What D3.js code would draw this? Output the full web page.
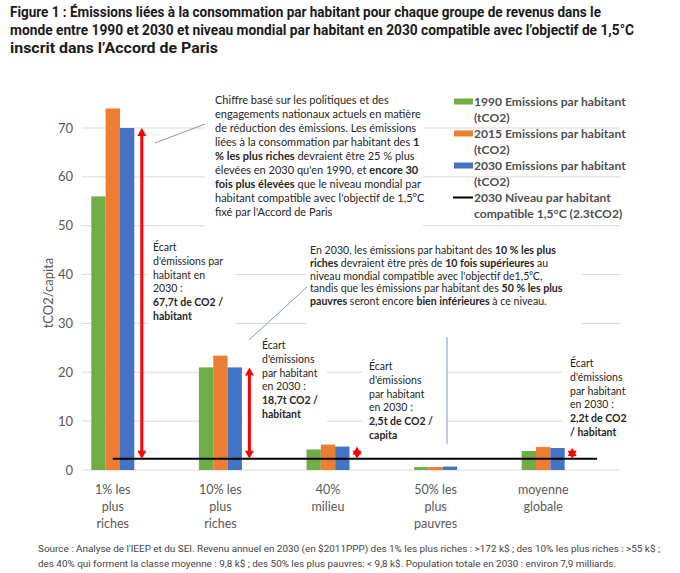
<!DOCTYPE html>
<html>
<head>
<meta charset="utf-8">
<script src="https://cdn.jsdelivr.net/npm/d3@7"></script>
<style>
  body { margin: 0; background: #fff; }
  svg text { font-family: Lato, "Open Sans", sans-serif; }
</style>
</head>
<body>
<div id="chart"></div>
<script>
// data
const categories = ["1%", "10%", "40%", "50%", "moyenne"];
const categoryLabels = [["1% les", "plus", "riches"], ["10% les", "plus", "riches"], ["40%", "milieu"], ["50% les", "plus", "pauvres"], ["moyenne", "globale"]];
const seriesNames = ["1990", "2015", "2030"];
const emissions1990 = [56, 21, 4.2, 0.6, 3.9];
const emissions2015 = [74, 23.4, 5.2, 0.6, 4.7];
const emissions2030 = [70, 21, 4.8, 0.7, 4.5];
const target2030 = 2.3;
const yTicks = [0, 10, 20, 30, 40, 50, 60, 70];
const gapGroups = ["1%", "10%", "40%", "moyenne"];
const colors = ["#70ad47", "#ed7d31", "#4472c4"];
const legendLines = [
  "1990 Emissions par habitant", "(tCO2)",
  "2015 Emissions par habitant", "(tCO2)",
  "2030 Emissions par habitant", "(tCO2)",
  "2030 Niveau par habitant", "compatible 1,5°C (2.3tCO2)"
];
const titleLines = [
  "Figure 1 : Émissions liées à la consommation par habitant pour chaque groupe de revenus dans le",
  "monde entre 1990 et 2030 et niveau mondial par habitant en 2030 compatible avec l’objectif de 1,5°C",
  "inscrit dans l’Accord de Paris"
];
const sourceLines = [
  "Source : Analyse de l'IEEP et du SEI. Revenu annuel en 2030 (en $2011PPP) des 1% les plus riches : >172 k$ ; des 10% les plus riches : >55 k$ ;",
  "des 40% qui forment la classe moyenne : 9,8 k$ ; des 50% les plus pauvres: < 9,8 k$. Population totale en 2030 : environ 7,9 milliards."
];
const note1 = [
  "Chiffre basé sur les politiques et des",
  "engagements nationaux actuels en matière",
  "de réduction des émissions. Les émissions",
  "liées à la consommation par habitant des **1**",
  "**% les plus riches** devraient être 25 % plus",
  "élevées en 2030 qu'en 1990, et **encore 30**",
  "**fois plus élevées** que le niveau mondial par",
  "habitant compatible avec l'objectif de 1,5°C",
  "fixé par l'Accord de Paris"
];
const note2 = [
  "En 2030, les émissions par habitant des **10 % les plus**",
  "**riches** devraient être près de **10 fois supérieures** au",
  "niveau mondial compatible avec l'objectif de1,5⁰C,",
  "tandis que les émissions par habitant des **50 % les plus**",
  "**pauvres** seront encore **bien inférieures** à ce niveau."
];
const gapNotes = [
  ["Écart", "d'émissions par", "habitant en", "2030 :", "**67,7t de CO2 /**", "**habitant**"],
  ["Écart", "d'émissions", "par habitant", "en 2030 :", "**18,7t CO2 /**", "**habitant**"],
  ["Écart", "d'émissions", "par habitant", "en 2030 :", "**2,5t de CO2 /**", "**capita**"],
  ["Écart", "d'émissions", "par habitant", "en 2030 :", "**2,2t de CO2**", "**/ habitant**"]
];

const width = 680, height = 573;
const svg = d3.select("#chart").append("svg")
  .attr("width", width).attr("height", height);

const y = d3.scaleLinear().domain([0, 70]).range([470, 128]);
const x = d3.scaleBand().domain(categories).range([59, 597]).padding(0);
const xs = d3.scaleBand().domain(seriesNames).range([-21.5, 21.5]);

// gridlines
svg.append("g").selectAll("line").data(yTicks).enter().append("line")
  .attr("x1", 82).attr("x2", 620)
  .attr("y1", d => y(d)).attr("y2", d => y(d))
  .attr("stroke", "#d9d9d9").attr("stroke-width", 1);

// white boxes behind text notes
const boxes = [[205, 90, 218, 140], [306, 240, 276, 97], [148, 237, 88, 89],
  [243, 336, 84, 89], [362, 356, 86, 86], [562, 352, 60, 86]];
svg.append("g").selectAll("rect").data(boxes).enter().append("rect")
  .attr("x", d => d[0]).attr("y", d => d[1]).attr("width", d => d[2]).attr("height", d => d[3])
  .attr("fill", "#fff");

// y axis labels
svg.append("g").selectAll("text").data(yTicks).enter().append("text")
  .attr("x", 73).attr("y", d => y(d) + 4.5)
  .attr("text-anchor", "end").attr("fill", "#595959").attr("font-size", 13)
  .text(d => d);
svg.append("text")
  .attr("transform", "translate(53," + ((y(0) + y(70)) / 2 - 6) + ") rotate(-90)")
  .attr("text-anchor", "middle").attr("fill", "#595959").attr("font-size", 13)
  .text("tCO2/capita");

// bars
const table = categories.map((c, i) => ({
  cat: c, vals: [emissions1990[i], emissions2015[i], emissions2030[i]]
}));
const groups = svg.append("g").selectAll("g").data(table).enter().append("g")
  .attr("transform", d => "translate(" + (x(d.cat) + x.bandwidth() / 2) + ",0)");
groups.selectAll("rect").data(d => d.vals.map((v, j) => ({ s: seriesNames[j], v: v, j: j })))
  .enter().append("rect")
  .attr("x", d => xs(d.s)).attr("width", xs.bandwidth())
  .attr("y", d => y(d.v)).attr("height", d => y(0) - y(d.v))
  .attr("fill", d => colors[d.j]);

// x labels
categoryLabels.forEach((lines, i) => {
  const t = svg.append("text").attr("text-anchor", "middle")
    .attr("fill", "#595959").attr("font-size", 12.5);
  lines.forEach((l, k) => {
    t.append("tspan").attr("x", x(categories[i]) + x.bandwidth() / 2)
      .attr("y", 494 + k * 17).text(l);
  });
});

// 1.5°C target line
svg.append("line")
  .attr("x1", x(categories[0]) + x.bandwidth() / 2).attr("x2", x.range()[1])
  .attr("y1", y(target2030)).attr("y2", y(target2030))
  .attr("stroke", "#000").attr("stroke-width", 2.2);

// red gap arrows
gapGroups.forEach(c => {
  const i = categories.indexOf(c);
  const ax = x(c) + x.bandwidth() / 2 + 29;
  const yt = y(emissions2030[i]), yb = y(target2030);
  const g = svg.append("g").attr("fill", "#ff0000");
  if (yb - yt > 16) {
    g.append("line").attr("x1", ax).attr("x2", ax).attr("y1", yt + 6).attr("y2", yb - 6)
      .attr("stroke", "#ff0000").attr("stroke-width", 3);
  }
  g.append("path").attr("d", `M${ax},${yt} L${ax + 4.5},${yt + 8} L${ax - 4.5},${yt + 8} Z`);
  g.append("path").attr("d", `M${ax},${yb} L${ax + 4.5},${yb - 8} L${ax - 4.5},${yb - 8} Z`);
});

// connector lines of the callouts
const connectors = [[155, 143, 205, 124], [249, 340, 307, 287], [447, 337, 447, 444]];
svg.append("g").selectAll("line").data(connectors).enter().append("line")
  .attr("x1", d => d[0]).attr("y1", d => d[1]).attr("x2", d => d[2]).attr("y2", d => d[3])
  .attr("stroke", "#7f97c4").attr("stroke-width", 1);

// text with **bold** parts
function richText(lines, x0, y0, dy, size) {
  const t = svg.append("text").attr("font-size", size).attr("fill", "#262626");
  lines.forEach((line, k) => {
    const parts = line.split("**");
    parts.forEach((p, m) => {
      if (!p) return;
      const ts = t.append("tspan").text(p).attr("font-weight", m % 2 ? "bold" : null);
      if (m === 0 || (m === 1 && parts[0] === "")) ts.attr("x", x0).attr("y", y0 + k * dy);
    });
  });
  return t;
}
richText(note1, 215, 104, 14, 11);
richText(note2, 310, 254, 12.8, 10.6);
const gapPos = [[153, 251], [262, 349], [369, 370], [570, 367]];
gapNotes.forEach((n, i) => richText(n, gapPos[i][0], gapPos[i][1], 13.8, 10.5));

// legend
const leg = svg.append("g");
legendLines.forEach((l, k) => {
  leg.append("text").attr("x", 474).attr("y", 105.5 + k * 16)
    .attr("font-size", 12.1).attr("font-weight", "bold").attr("fill", "#505050").text(l);
});
colors.forEach((c, j) => {
  leg.append("rect").attr("x", 454).attr("y", 98.5 + j * 32).attr("width", 19).attr("height", 6).attr("fill", c);
});
leg.append("line").attr("x1", 453).attr("x2", 473).attr("y1", 197.5).attr("y2", 197.5)
  .attr("stroke", "#000").attr("stroke-width", 2);

// title
const titleLen = [591, 624, 208];
titleLines.forEach((l, k) => {
  svg.append("text").attr("x", 10).attr("y", 17 + k * 18)
    .style("font-family", "Roboto, sans-serif").attr("font-weight", "bold")
    .attr("font-size", 14.5).attr("fill", "#1a1a1a")
    .attr("textLength", titleLen[k]).attr("lengthAdjust", "spacingAndGlyphs")
    .text(l);
});

// source
const srcLen = [622, 578];
sourceLines.forEach((l, k) => {
  svg.append("text").attr("x", 38).attr("y", 552 + k * 14.5)
    .style("font-family", "Roboto, sans-serif").attr("font-size", 9.5).attr("fill", "#444")
    .attr("textLength", srcLen[k]).attr("lengthAdjust", "spacingAndGlyphs")
    .text(l);
});
</script>
</body>
</html>
